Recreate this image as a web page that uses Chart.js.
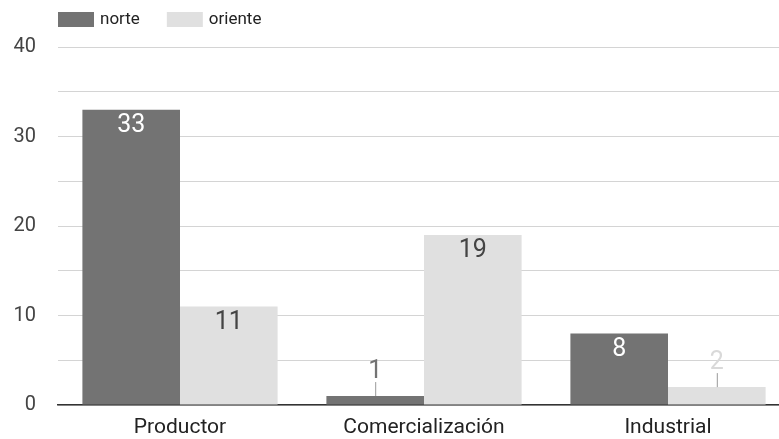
<!DOCTYPE html>
<html>
<head>
<meta charset="utf-8">
<script src="https://cdn.jsdelivr.net/npm/chart.js@4"></script>
<style>
body { margin: 0; overflow: hidden; background: #fff; }
#wrap { width: 790px; height: 439px; }
</style>
</head>
<body>
<div id="wrap"><canvas id="chart"></canvas></div>
<script>
const categories = ['Productor', 'Comercialización', 'Industrial'];
const seriesNames = ['norte', 'oriente'];
const norte = [33, 1, 8];
const oriente = [11, 19, 2];
const yMax = 40;

const colors = ['#737373', '#e0e0e0'];
const insideText = ['#ffffff', '#444444'];
const outsideText = ['#737373', '#d9d9d9'];
const FONT = 'Roboto, "Noto Sans", sans-serif';

// legend drawn at the top, lined up with the plot area
const topLegend = {
  id: 'topLegend',
  afterDraw(chart) {
    const ctx = chart.ctx;
    let x = chart.chartArea.left;
    ctx.save();
    ctx.font = '17px ' + FONT;
    ctx.textBaseline = 'middle';
    chart.data.datasets.forEach(ds => {
      ctx.fillStyle = ds.backgroundColor;
      ctx.fillRect(x, 12, 36, 15);
      ctx.fillStyle = '#222';
      ctx.fillText(ds.label, x + 42, 20);
      x += 42 + ctx.measureText(ds.label).width + 27;
    });
    ctx.restore();
  }
};

// value labels: inside the bar top, or above with a leader line if bar is short
const barLabels = {
  id: 'barLabels',
  afterDatasetsDraw(chart) {
    const ctx = chart.ctx;
    ctx.save();
    ctx.font = '25px ' + FONT;
    ctx.textAlign = 'center';
    chart.data.datasets.forEach((ds, di) => {
      chart.getDatasetMeta(di).data.forEach((bar, i) => {
        const v = ds.data[i];
        const h = bar.base - bar.y;
        if (h > 34) {
          ctx.fillStyle = insideText[di];
          ctx.textBaseline = 'middle';
          ctx.fillText(v, bar.x, bar.y + 16);
        } else {
          ctx.strokeStyle = '#999';
          ctx.lineWidth = 1;
          ctx.beginPath();
          ctx.moveTo(bar.x + 0.5, bar.y);
          ctx.lineTo(bar.x + 0.5, bar.y - 14);
          ctx.stroke();
          ctx.fillStyle = outsideText[di];
          ctx.textBaseline = 'alphabetic';
          ctx.fillText(v, bar.x, bar.y - 18);
        }
      });
    });
    ctx.restore();
  }
};

new Chart(document.getElementById('chart'), {
  type: 'bar',
  data: {
    labels: categories,
    datasets: [
      { label: seriesNames[0], data: norte, backgroundColor: colors[0] },
      { label: seriesNames[1], data: oriente, backgroundColor: colors[1] }
    ]
  },
  options: {
    responsive: true,
    maintainAspectRatio: false,
    animation: false,
    layout: { padding: { top: 47, left: 0, right: 0, bottom: 0 } },
    datasets: { bar: { categoryPercentage: 0.8, barPercentage: 1 } },
    plugins: { legend: { display: false }, tooltip: { enabled: false } },
    scales: {
      x: {
        grid: { display: false, drawTicks: false },
        border: { color: '#333', width: 1.5 },
        ticks: { color: '#222', font: { family: FONT, size: 21 }, padding: 10 },
        afterFit(scale) { scale.height = 34; }
      },
      y: {
        min: 0,
        max: yMax,
        border: { display: false },
        grid: { color: '#d4d4d4', drawTicks: false },
        ticks: {
          stepSize: 5,
          color: '#444',
          font: { family: FONT, size: 20 },
          padding: 22,
          callback: v => (v % 10 === 0 ? v : '')
        },
        afterFit(scale) { scale.width = 58; }
      }
    }
  },
  plugins: [topLegend, barLabels]
});
</script>
</body>
</html>
